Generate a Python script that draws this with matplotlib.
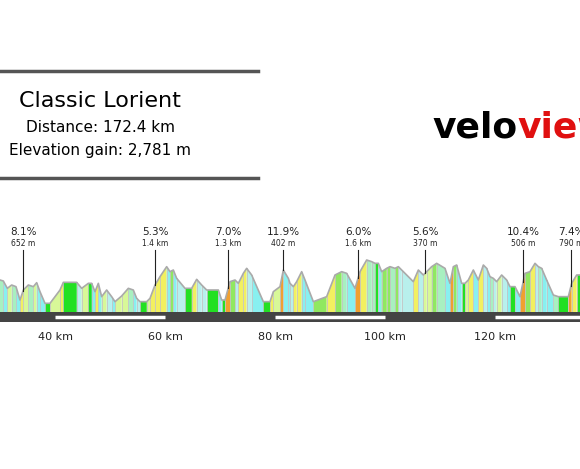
import matplotlib
matplotlib.use("Agg")
import matplotlib.pyplot as plt
import numpy as np

# profile points as (km, elevation m)
PX_PER_KM = 5.5
KM0 = 30.0

raw1 = [(0,180),(10,183),(22,205),(35,195),(48,200),(60,240),(70,210),(85,195),(100,200),(110,188),
        (120,215),(135,250),(150,250),(180,210),(190,187),(230,187),(245,205),(265,190),(275,190),
        (285,215),(295,190),(305,230),(320,210),(335,230),(345,245),(365,228),(385,205),(400,210),
        (410,235),(420,245),(440,245),(450,235),(465,195),(480,170),(500,140),(510,155),(520,150),
        (530,175),(555,205),(575,205),(590,178),(605,195),(620,210),(655,210),(665,240),(675,240),
        (690,185),(705,180),(715,190),(730,160),(740,145),(755,165),(790,245),(810,245),(820,215),
        (840,200),(850,150),(865,175)]
raw2 = [(0,190),(10,200),(20,185),(35,155),(45,180),(70,245),(110,230),(135,165),(155,155),(170,160),
        (195,205),(210,155),(230,120),(245,125),(255,130),(265,130),(275,155),(290,145),(300,140),
        (315,145),(325,140),(335,150),(370,185),(385,150),(400,165),(410,155),(425,140),(440,130),
        (465,145),(480,190),(490,140),(500,135),(515,190),(525,190),(535,180),(550,150),(565,180),
        (580,135),(590,145),(600,170),(610,175),(620,185),(635,165),(650,180),(660,200),(675,200),
        (690,230),(705,160),(720,155),(735,130),(745,140),(755,145),(770,180),(790,225),(805,230),
        (835,230),(845,190),(860,165),(870,165)]

km = [KM0 + (zx / 3) / PX_PER_KM for zx, zy in raw1] + \
     [KM0 + (290 + zx / 3) / PX_PER_KM for zx, zy in raw2]
elev = [20 + (312 - (220 + zy / 3)) * 2 for zx, zy in raw1] + \
       [20 + (312 - (220 + zy / 3)) * 2 for zx, zy in raw2]

climb_km = [34.2, 58.2, 71.5, 81.5, 95.1, 107.3, 125.1, 133.8]
climb_pct = ["8.1%", "5.3%", "7.0%", "11.9%", "6.0%", "5.6%", "10.4%", "7.4%"]
climb_len = ["652 m", "1.4 km", "1.3 km", "402 m", "1.6 km", "370 m", "506 m", "790 m"]

tick_km = [40, 60, 80, 100, 120]
stripes = [(40, 60), (80, 100), (120, 140)]

fig = plt.figure(figsize=(5.8, 4.69), dpi=100)
ax = fig.add_axes([0, 0, 1, 1])
ax.set_xlim(KM0, KM0 + 580 / PX_PER_KM)
ax.set_ylim(20 - (469 - 312) * 2, 20 + 312 * 2)
ax.axis("off")

BASE = 20


def seg_color(g):
    if g > 9:
        return "#f0a030"
    if g > 4:
        return "#f2f060"
    if g > 2:
        return "#d8f898"
    if g > 0.6:
        return "#90e860"
    if g > -0.6:
        return "#22e022"
    if g > -2:
        return "#a8f0c0"
    if g > -4:
        return "#b8f0ec"
    return "#88f0f0"


for i in range(len(km) - 1):
    dx = (km[i + 1] - km[i]) * 1000
    g = (elev[i + 1] - elev[i]) / dx * 100 * 2.5 if dx > 0 else 0
    ax.fill([km[i], km[i + 1], km[i + 1], km[i]], [BASE, BASE, elev[i + 1], elev[i]],
            color=seg_color(g), lw=0, zorder=1)
    ax.plot([km[i + 1], km[i + 1]], [BASE + 1, elev[i + 1]], color="#c4c4c4", lw=0.6, zorder=2)
ax.plot(km, elev, color="#aaaaaa", lw=1.2, zorder=3)

# road bar
ax.fill_between([KM0 - 1, KM0 + 600 / PX_PER_KM], BASE - 20, BASE + 1, color="#444444",
                lw=0, zorder=4)
for a, b in stripes:
    ax.plot([a, b], [BASE - 9, BASE - 9], color="white", lw=2.5, solid_capstyle="butt", zorder=5)
for t in tick_km:
    ax.text(t, 20 - (337 - 312) * 2, f"{t} km", ha="center", va="center", fontsize=8,
            color="#222222")

# climbs
for k, p, l in zip(climb_km, climb_pct, climb_len):
    yk = np.interp(k, km, elev)
    ax.plot([k, k], [20 + (312 - 250) * 2, yk], color="#222222", lw=0.8, zorder=3)
    ax.text(k, 20 + (312 - 232) * 2, p, ha="center", va="center", fontsize=7.5, color="#222222")
    ax.text(k, 20 + (312 - 243) * 2, l, ha="center", va="center", fontsize=5.5, color="#222222")

# title block
fig.add_artist(plt.Line2D([0, 258 / 580], [1 - 71 / 469] * 2, color="#555555", lw=2.5))
fig.add_artist(plt.Line2D([0, 258 / 580], [1 - 178 / 469] * 2, color="#555555", lw=2.5))
fig.text(100 / 580, 1 - 101 / 469, "Classic Lorient", ha="center", va="center", fontsize=16)
fig.text(100 / 580, 1 - 128 / 469, "Distance: 172.4 km", ha="center", va="center", fontsize=11)
fig.text(100 / 580, 1 - 150 / 469, "Elevation gain: 2,781 m", ha="center", va="center", fontsize=11)

# logo
velo = fig.text(432 / 580, 1 - 127 / 469, "velo", ha="left", va="center", fontsize=26,
                fontweight="heavy", color="black")
fig.canvas.draw()
bb = velo.get_window_extent()
fig.text(bb.x1 / 580, 1 - 127 / 469, "view", ha="left", va="center", fontsize=26,
         fontweight="heavy", color="#e01010")

fig.savefig("out.png", dpi=100)
